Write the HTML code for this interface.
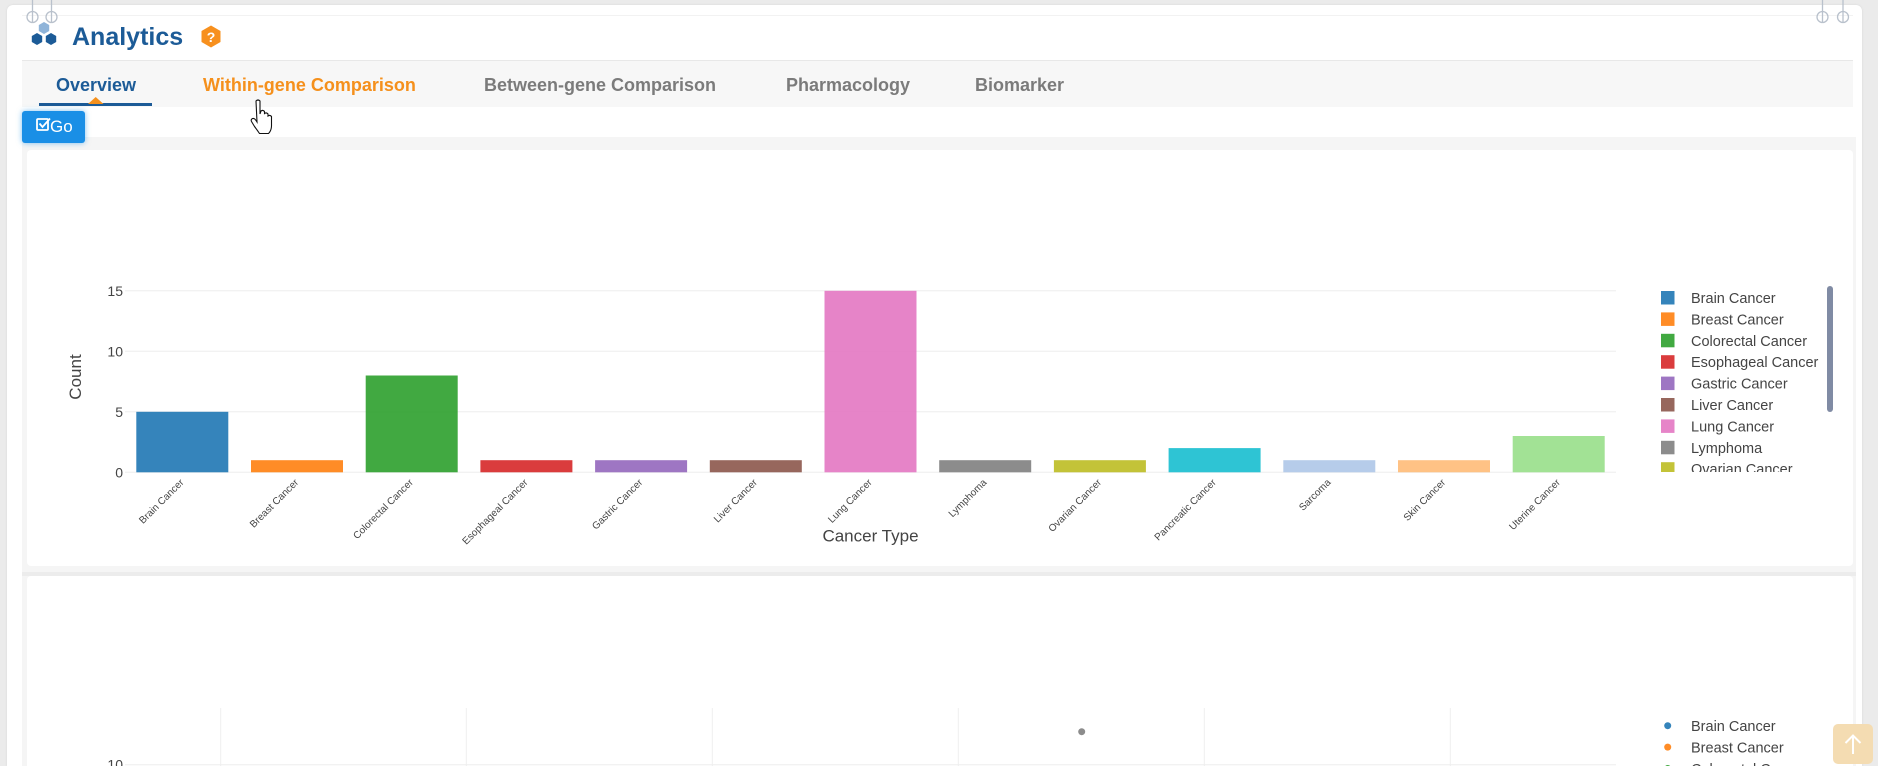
<!DOCTYPE html>
<html>
<head>
<meta charset="utf-8">
<style>
html,body{margin:0;padding:0;width:1878px;height:766px;overflow:hidden;}
body{position:relative;background:#ebebeb;font-family:"Liberation Sans",Arial,sans-serif;}
.abs{position:absolute;}
#panel{left:7px;top:5px;width:1855px;height:761px;background:#fff;border-radius:6px 6px 0 0;box-shadow:0 0 2px #d6d6d6;}
#tabbar{left:22px;top:60px;width:1831px;height:46px;background:#f7f7f7;border-top:1px solid #e8e8e8;}
.tab{position:absolute;top:74px;font-size:18px;font-weight:bold;color:#7b7b7b;white-space:nowrap;line-height:22px;}
#wrap{left:22px;top:137px;width:1834px;height:629px;background:#f5f5f5;}
.card{position:absolute;left:27px;width:1826px;background:#fff;border-radius:4px;}
#go{left:22px;top:111px;width:63px;height:32px;background:#1a8fe6;border-radius:3px;box-shadow:0 0 6px rgba(26,143,230,.55);color:#fff;font-size:17px;line-height:32px;}
#totop{left:1833px;top:724px;width:40px;height:40px;background:#f4dcb2;border-radius:5px;}
</style>
</head>
<body>
<div id="panel" class="abs"></div>
<div class="abs" style="left:22px;top:15px;width:1831px;height:1px;background:#f2f2f2;"></div>
<div id="tabbar" class="abs"></div>
<div id="wrap" class="abs"></div>
<div class="card" style="top:150px;height:416px;"></div>
<div class="abs" style="left:22px;top:572px;width:1834px;height:4px;background:#ececec;"></div>
<div class="card" style="top:576px;height:190px;border-radius:4px 4px 0 0;"></div>

<!-- header text -->
<div class="abs" style="left:72px;top:22px;font-size:25px;font-weight:bold;color:#1c5b97;line-height:30px;">Analytics</div>
<div class="tab" style="left:56px;color:#1c5b97;">Overview</div>
<div class="tab" style="left:203px;color:#f5901c;">Within-gene Comparison</div>
<div class="tab" style="left:484px;">Between-gene Comparison</div>
<div class="tab" style="left:786px;">Pharmacology</div>
<div class="tab" style="left:975px;">Biomarker</div>
<div class="abs" style="left:39px;top:103px;width:113px;height:3px;background:#1c5b97;"></div>

<div id="go" class="abs"><span style="position:absolute;left:28px;top:0;">Go</span></div>
<div id="totop" class="abs"></div>

<svg class="abs" style="left:0;top:0;" width="1878" height="766" viewBox="0 0 1878 766" xmlns="http://www.w3.org/2000/svg" font-family="Liberation Sans, Arial, sans-serif">
  <!-- connectors -->
  <g stroke="#b9c1cc" stroke-width="1.3" fill="none">
    <line x1="32.5" y1="0" x2="32.5" y2="22"/><circle cx="32.5" cy="17" r="5.5"/>
    <line x1="51.5" y1="0" x2="51.5" y2="22"/><circle cx="51.5" cy="17" r="5.5"/>
    <line x1="1822.5" y1="0" x2="1822.5" y2="22"/><circle cx="1822.5" cy="17" r="5.5"/>
    <line x1="1843" y1="0" x2="1843" y2="22"/><circle cx="1843" cy="17" r="5.5"/>
  </g>
  <!-- logo hexes -->
  <polygon points="44,22 49.2,25 49.2,31 44,34 38.8,31 38.8,25" fill="#8fb4d9"/>
  <polygon points="37,33 42.2,36 42.2,42 37,45 31.8,42 31.8,36" fill="#1c5b97"/>
  <polygon points="51,33 56.2,36 56.2,42 51,45 45.8,42 45.8,36" fill="#1c5b97"/>
  <!-- help hex -->
  <polygon points="211,25.5 220.5,31 220.5,42 211,47.5 201.5,42 201.5,31" fill="#f7901e"/>
  <text x="211" y="42" font-size="14" font-weight="bold" fill="#fff" text-anchor="middle">?</text>
  <!-- tab triangle -->
  <polygon points="95.7,97 103.5,104 88,104" fill="#f5901c"/>
  <!-- go icon -->
  <g stroke="#fff" stroke-width="1.8" fill="none">
    <rect x="37" y="119" width="11" height="11" rx="1"/>
    <polyline points="39.5,123.5 42.5,127 50,118.5"/>
  </g>
  <!-- cursor hand -->
  <path d="M256,101 q2,-2 4,0 l0,13 l1,-3 q2,-1.5 3.5,0.5 l0,2 q2,-1.5 3.5,0.5 l0,2 q2,-1.5 3.5,0.5 l0,9 q0,5 -3,8 l-9,0 q-2,-3 -5,-7 l-3,-5 q-1,-2 1,-3 q2,-0.5 3.5,2 l1,1.5 z" fill="#fff" stroke="#111" stroke-width="1.1"/>
  <!-- to top arrow -->
  <g stroke="#fff" stroke-width="2" fill="none">
    <polyline points="1845.5,743 1853,735.5 1860.5,743"/>
    <line x1="1853" y1="736" x2="1853" y2="754"/>
  </g>

  <!-- ===== Chart 1 ===== -->
  <g stroke="#eeeeee" stroke-width="1">
    <line x1="125" y1="411.8" x2="1616" y2="411.8"/>
    <line x1="125" y1="351.3" x2="1616" y2="351.3"/>
    <line x1="125" y1="290.8" x2="1616" y2="290.8"/>
    <line x1="125" y1="472.3" x2="1616" y2="472.3"/>
  </g>
  <g fill-opacity="0.9">
    <rect x="136.3" y="411.8" width="92" height="60.5" fill="#1f77b4"/>
    <rect x="251.0" y="460.2" width="92" height="12.1" fill="#ff7f0e"/>
    <rect x="365.7" y="375.5" width="92" height="96.8" fill="#2ca02c"/>
    <rect x="480.4" y="460.2" width="92" height="12.1" fill="#d62728"/>
    <rect x="595.1" y="460.2" width="92" height="12.1" fill="#9467bd"/>
    <rect x="709.8" y="460.2" width="92" height="12.1" fill="#8c564b"/>
    <rect x="824.5" y="290.8" width="92" height="181.5" fill="#e377c2"/>
    <rect x="939.2" y="460.2" width="92" height="12.1" fill="#7f7f7f"/>
    <rect x="1053.9" y="460.2" width="92" height="12.1" fill="#bcbd22"/>
    <rect x="1168.6" y="448.1" width="92" height="24.2" fill="#17becf"/>
    <rect x="1283.3" y="460.2" width="92" height="12.1" fill="#aec7e8"/>
    <rect x="1398.0" y="460.2" width="92" height="12.1" fill="#ffbb78"/>
    <rect x="1512.7" y="436.0" width="92" height="36.3" fill="#98df8a"/>
  </g>
  <g font-size="14" fill="#444" text-anchor="end">
    <text x="123" y="477.3">0</text>
    <text x="123" y="416.8">5</text>
    <text x="123" y="356.3">10</text>
    <text x="123" y="295.8">15</text>
  </g>
  <g font-size="10" fill="#444" text-anchor="end">
    <text transform="translate(184.3,483) rotate(-45)">Brain Cancer</text>
    <text transform="translate(299,483) rotate(-45)">Breast Cancer</text>
    <text transform="translate(413.7,483) rotate(-45)">Colorectal Cancer</text>
    <text transform="translate(528.4,483) rotate(-45)">Esophageal Cancer</text>
    <text transform="translate(643.1,483) rotate(-45)">Gastric Cancer</text>
    <text transform="translate(757.8,483) rotate(-45)">Liver Cancer</text>
    <text transform="translate(872.5,483) rotate(-45)">Lung Cancer</text>
    <text transform="translate(987.2,483) rotate(-45)">Lymphoma</text>
    <text transform="translate(1101.9,483) rotate(-45)">Ovarian Cancer</text>
    <text transform="translate(1216.6,483) rotate(-45)">Pancreatic Cancer</text>
    <text transform="translate(1331.3,483) rotate(-45)">Sarcoma</text>
    <text transform="translate(1446,483) rotate(-45)">Skin Cancer</text>
    <text transform="translate(1560.7,483) rotate(-45)">Uterine Cancer</text>
  </g>
  <text x="870.5" y="541.5" font-size="17" fill="#444" text-anchor="middle">Cancer Type</text>
  <text transform="translate(81,377) rotate(-90)" font-size="17" fill="#444" text-anchor="middle">Count</text>

  <defs>
    <clipPath id="lg1"><rect x="1650" y="284" width="180" height="188"/></clipPath>
    <clipPath id="pg"><rect x="0" y="576" width="1878" height="190"/></clipPath>
  </defs>
  <g clip-path="url(#lg1)" font-size="14.5" fill="#444">
    <g fill-opacity="0.9">
      <rect x="1661" y="291" width="13.5" height="13.5" fill="#1f77b4"/>
      <rect x="1661" y="312.4" width="13.5" height="13.5" fill="#ff7f0e"/>
      <rect x="1661" y="333.8" width="13.5" height="13.5" fill="#2ca02c"/>
      <rect x="1661" y="355.2" width="13.5" height="13.5" fill="#d62728"/>
      <rect x="1661" y="376.6" width="13.5" height="13.5" fill="#9467bd"/>
      <rect x="1661" y="398" width="13.5" height="13.5" fill="#8c564b"/>
      <rect x="1661" y="419.4" width="13.5" height="13.5" fill="#e377c2"/>
      <rect x="1661" y="440.8" width="13.5" height="13.5" fill="#7f7f7f"/>
      <rect x="1661" y="462.2" width="13.5" height="13.5" fill="#bcbd22"/>
    </g>
    <text x="1691" y="303">Brain Cancer</text>
    <text x="1691" y="324.4">Breast Cancer</text>
    <text x="1691" y="345.8">Colorectal Cancer</text>
    <text x="1691" y="367.2">Esophageal Cancer</text>
    <text x="1691" y="388.6">Gastric Cancer</text>
    <text x="1691" y="410">Liver Cancer</text>
    <text x="1691" y="431.4">Lung Cancer</text>
    <text x="1691" y="452.8">Lymphoma</text>
    <text x="1691" y="474.2">Ovarian Cancer</text>
  </g>
  <rect x="1827" y="286" width="6" height="126" rx="3" fill="#808BA4"/>

  <!-- ===== Chart 2 ===== -->
  <g clip-path="url(#pg)">
    <g stroke="#eeeeee" stroke-width="1">
      <line x1="220.7" y1="708" x2="220.7" y2="766"/>
      <line x1="466.3" y1="708" x2="466.3" y2="766"/>
      <line x1="712.3" y1="708" x2="712.3" y2="766"/>
      <line x1="958.3" y1="708" x2="958.3" y2="766"/>
      <line x1="1204.3" y1="708" x2="1204.3" y2="766"/>
      <line x1="1450.3" y1="708" x2="1450.3" y2="766"/>
      <line x1="125" y1="764.7" x2="1616" y2="764.7"/>
    </g>
    <text x="123" y="769.7" font-size="14" fill="#444" text-anchor="end">10</text>
    <circle cx="1081.7" cy="731.7" r="3.5" fill="#7f7f7f" fill-opacity="0.9"/>
    <circle cx="1667.7" cy="725.7" r="3.5" fill="#1f77b4" fill-opacity="0.9"/>
    <circle cx="1667.7" cy="747.1" r="3.5" fill="#ff7f0e" fill-opacity="0.9"/>
    <circle cx="1667.7" cy="768.5" r="3.5" fill="#2ca02c" fill-opacity="0.9"/>
    <g font-size="14.5" fill="#444">
      <text x="1691" y="731">Brain Cancer</text>
      <text x="1691" y="752.4">Breast Cancer</text>
      <text x="1691" y="773.8">Colorectal Cancer</text>
    </g>
  </g>
</svg>
</body>
</html>
